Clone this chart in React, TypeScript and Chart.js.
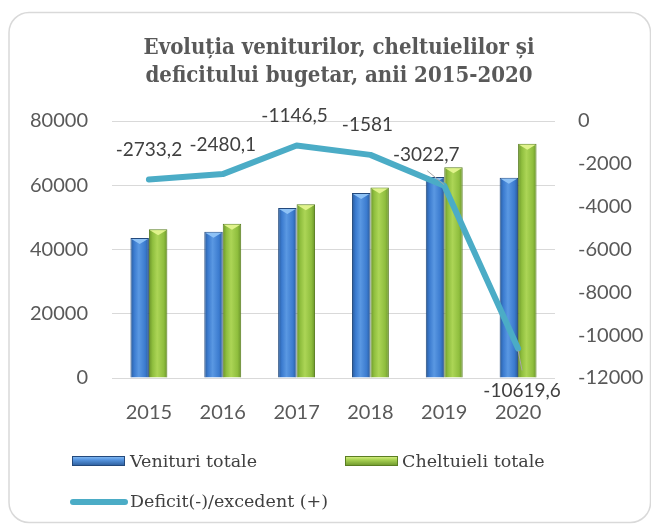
import React, { useEffect, useRef } from "react";
import { Chart, registerables } from "chart.js";

Chart.register(...registerables);

// ---- data ----
const years = ["2015", "2016", "2017", "2018", "2019", "2020"];
const venituri = [43600, 45500, 52900, 57600, 62600, 62300];
const cheltuieli = [46300, 48000, 54100, 59300, 65600, 72900];
const deficit = [-2733.2, -2480.1, -1146.5, -1581, -3022.7, -10619.6];
const leftTicks = [0, 20000, 40000, 60000, 80000];
const rightTicks = [-12000, -10000, -8000, -6000, -4000, -2000, 0];
const titleLines = ["Evoluția veniturilor, cheltuielilor și", "deficitului bugetar, anii 2015-2020"];
const seriesNames = ["Venituri totale", "Cheltuieli totale", "Deficit(-)/excedent (+)"];

// ---- styles ----
const W = 651;
const H = 518;
const tickFont = { family: "Lato", size: 20 };
const tickColor = "#595959";
const labelOffsets = [[0, -30], [0, -29], [-2, -30], [-3, -30], [-18, -31], [4, 42]];
const leaders: Record<number, number[]> = { 4: [-17, -15, 0, -1], 5: [0, 2, 4, 22] };
const barColors = [
  { edge: "#2a5a98", mid: "#3b7bcf", light: "#5a98e2", tri: "#8ec2f6", border: "#23497c" },
  { edge: "#6a942a", mid: "#8fbe3e", light: "#acd556", tri: "#e0f38c", border: "#5a7e22" },
];
const lineColor = "#4bacc6";

function barGradient(c: any, di: number) {
  const col = barColors[di];
  const chart = c.chart;
  const area = chart.chartArea;
  if (!area || c.type !== "data") return col.mid;
  const xs = chart.scales.x;
  const cx = xs.getPixelForValue(c.dataIndex);
  const cat = (area.right - area.left) / years.length;
  const bw = (cat * 0.5) / 2;
  const x0 = di === 0 ? cx - bw : cx;
  const g = chart.ctx.createLinearGradient(x0, 0, x0 + bw, 0);
  g.addColorStop(0, col.edge);
  g.addColorStop(0.2, col.mid);
  g.addColorStop(0.45, col.light);
  g.addColorStop(0.8, col.mid);
  g.addColorStop(1, col.edge);
  return g;
}

const framePlugin = {
  id: "frame",
  beforeDraw(chart: any) {
    const ctx = chart.ctx;
    ctx.save();
    ctx.fillStyle = "#ffffff";
    ctx.fillRect(0, 0, W, H);
    ctx.strokeStyle = "#d9d9d9";
    ctx.lineWidth = 1.5;
    ctx.beginPath();
    (ctx as any).roundRect(1, 4.5, 641.5, 510, 20);
    ctx.stroke();
    // title
    ctx.fillStyle = "#595959";
    ctx.font = "bold 22px 'DejaVu Serif Condensed', 'DejaVu Serif'";
    ctx.textAlign = "center";
    ctx.textBaseline = "middle";
    ctx.fillText(titleLines[0], 331, 40);
    ctx.fillText(titleLines[1], 331, 68);
    ctx.restore();
  },
};

const barTopPlugin = {
  id: "barTop",
  afterDatasetDraw(chart: any, args: any) {
    const di = args.index;
    if (di > 1) return;
    const ctx = chart.ctx;
    const meta = chart.getDatasetMeta(di);
    ctx.save();
    ctx.fillStyle = barColors[di].tri;
    meta.data.forEach((el: any) => {
      const w = el.width;
      ctx.beginPath();
      ctx.moveTo(el.x - w / 2 + 1, el.y + 1);
      ctx.lineTo(el.x + w / 2 - 1, el.y + 1);
      ctx.lineTo(el.x, el.y + 6);
      ctx.closePath();
      ctx.fill();
    });
    ctx.restore();
  },
};

const labelPlugin = {
  id: "labels",
  afterDraw(chart: any) {
    const ctx = chart.ctx;
    const meta = chart.getDatasetMeta(2);
    ctx.save();
    meta.data.forEach((pt: any, i: number) => {
      const ld = leaders[i];
      if (ld) {
        ctx.strokeStyle = "#a6a6a6";
        ctx.lineWidth = 1;
        ctx.beginPath();
        ctx.moveTo(pt.x + ld[0], pt.y + ld[1]);
        ctx.lineTo(pt.x + ld[2], pt.y + ld[3]);
        ctx.stroke();
      }
      ctx.fillStyle = "#404040";
      ctx.font = "19px Lato";
      ctx.textAlign = "center";
      ctx.textBaseline = "middle";
      const txt = String(deficit[i]).replace(".", ",");
      ctx.fillText(txt, pt.x + labelOffsets[i][0], pt.y + labelOffsets[i][1]);
    });
    // legend
    ctx.font = "17.5px 'DejaVu Serif'";
    ctx.textAlign = "left";
    ctx.textBaseline = "middle";
    const drawBox = (x: number, y: number, di: number) => {
      const col = barColors[di];
      const g = ctx.createLinearGradient(0, y, 0, y + 10);
      g.addColorStop(0, col.tri);
      g.addColorStop(0.35, col.light);
      g.addColorStop(1, col.edge);
      ctx.fillStyle = g;
      ctx.fillRect(x, y, 53, 10);
      ctx.strokeStyle = col.border;
      ctx.lineWidth = 1;
      ctx.strokeRect(x + 0.5, y + 0.5, 52, 9);
    };
    drawBox(64, 448, 0);
    ctx.fillStyle = "#404040";
    ctx.fillText(seriesNames[0], 122, 454);
    drawBox(337, 448, 1);
    ctx.fillStyle = "#404040";
    ctx.fillText(seriesNames[1], 394, 454);
    ctx.strokeStyle = lineColor;
    ctx.lineWidth = 6;
    ctx.lineCap = "round";
    ctx.beginPath();
    ctx.moveTo(65, 494);
    ctx.lineTo(117, 494);
    ctx.stroke();
    ctx.fillStyle = "#404040";
    ctx.fillText(seriesNames[2], 122, 494);
    ctx.restore();
  },
};

export default function App() {
  const ref = useRef<HTMLCanvasElement>(null);
  useEffect(() => {
    const canvas = ref.current!;
    const chart = new Chart(canvas, {
      type: "bar",
      data: {
        labels: years,
        datasets: [
          {
            type: "bar",
            label: seriesNames[0],
            data: venituri,
            yAxisID: "y",
            order: 1,
            backgroundColor: (c: any) => barGradient(c, 0),
            borderColor: barColors[0].border,
            borderWidth: 1,
            categoryPercentage: 0.5,
            barPercentage: 1,
          },
          {
            type: "bar",
            label: seriesNames[1],
            data: cheltuieli,
            yAxisID: "y",
            order: 1,
            backgroundColor: (c: any) => barGradient(c, 1),
            borderColor: barColors[1].border,
            borderWidth: 1,
            categoryPercentage: 0.5,
            barPercentage: 1,
          },
          {
            type: "line",
            label: seriesNames[2],
            data: deficit,
            yAxisID: "y1",
            order: 0,
            borderColor: lineColor,
            borderWidth: 6,
            pointRadius: 0,
            tension: 0,
            borderCapStyle: "round",
            borderJoinStyle: "round",
          },
        ] as any,
      },
      options: {
        responsive: false,
        animation: false,
        devicePixelRatio: 1,
        layout: { padding: { top: 113, bottom: 98, left: 0, right: 0 } },
        plugins: { legend: { display: false }, title: { display: false }, tooltip: { enabled: false } },
        scales: {
          x: {
            grid: { display: false },
            border: { display: false },
            ticks: { font: tickFont, color: tickColor, padding: 15 },
            afterFit: (s: any) => {
              s.height = 50;
            },
          },
          y: {
            position: "left",
            min: 0,
            max: 80000,
            afterBuildTicks: (s: any) => {
              s.ticks = leftTicks.map((v) => ({ value: v }));
            },
            ticks: { font: tickFont, color: tickColor, padding: 24, callback: (v: any) => String(v) },
            grid: { color: "#d9d9d9", drawTicks: false, lineWidth: 1 },
            border: { display: false },
            afterFit: (s: any) => {
              s.width = 104;
            },
          },
          y1: {
            position: "right",
            min: -12000,
            max: 0,
            afterBuildTicks: (s: any) => {
              s.ticks = rightTicks.map((v) => ({ value: v }));
            },
            ticks: { font: tickFont, color: tickColor, padding: 23, callback: (v: any) => String(v) },
            grid: { display: false, drawTicks: false },
            border: { display: false },
            afterFit: (s: any) => {
              s.width = 104;
            },
          },
        },
      } as any,
      plugins: [framePlugin, barTopPlugin, labelPlugin],
    });
    return () => chart.destroy();
  }, []);
  return (
    <div style={{ width: W, height: H }}>
      <canvas ref={ref} width={W} height={H} style={{ display: "block" }} />
    </div>
  );
}
